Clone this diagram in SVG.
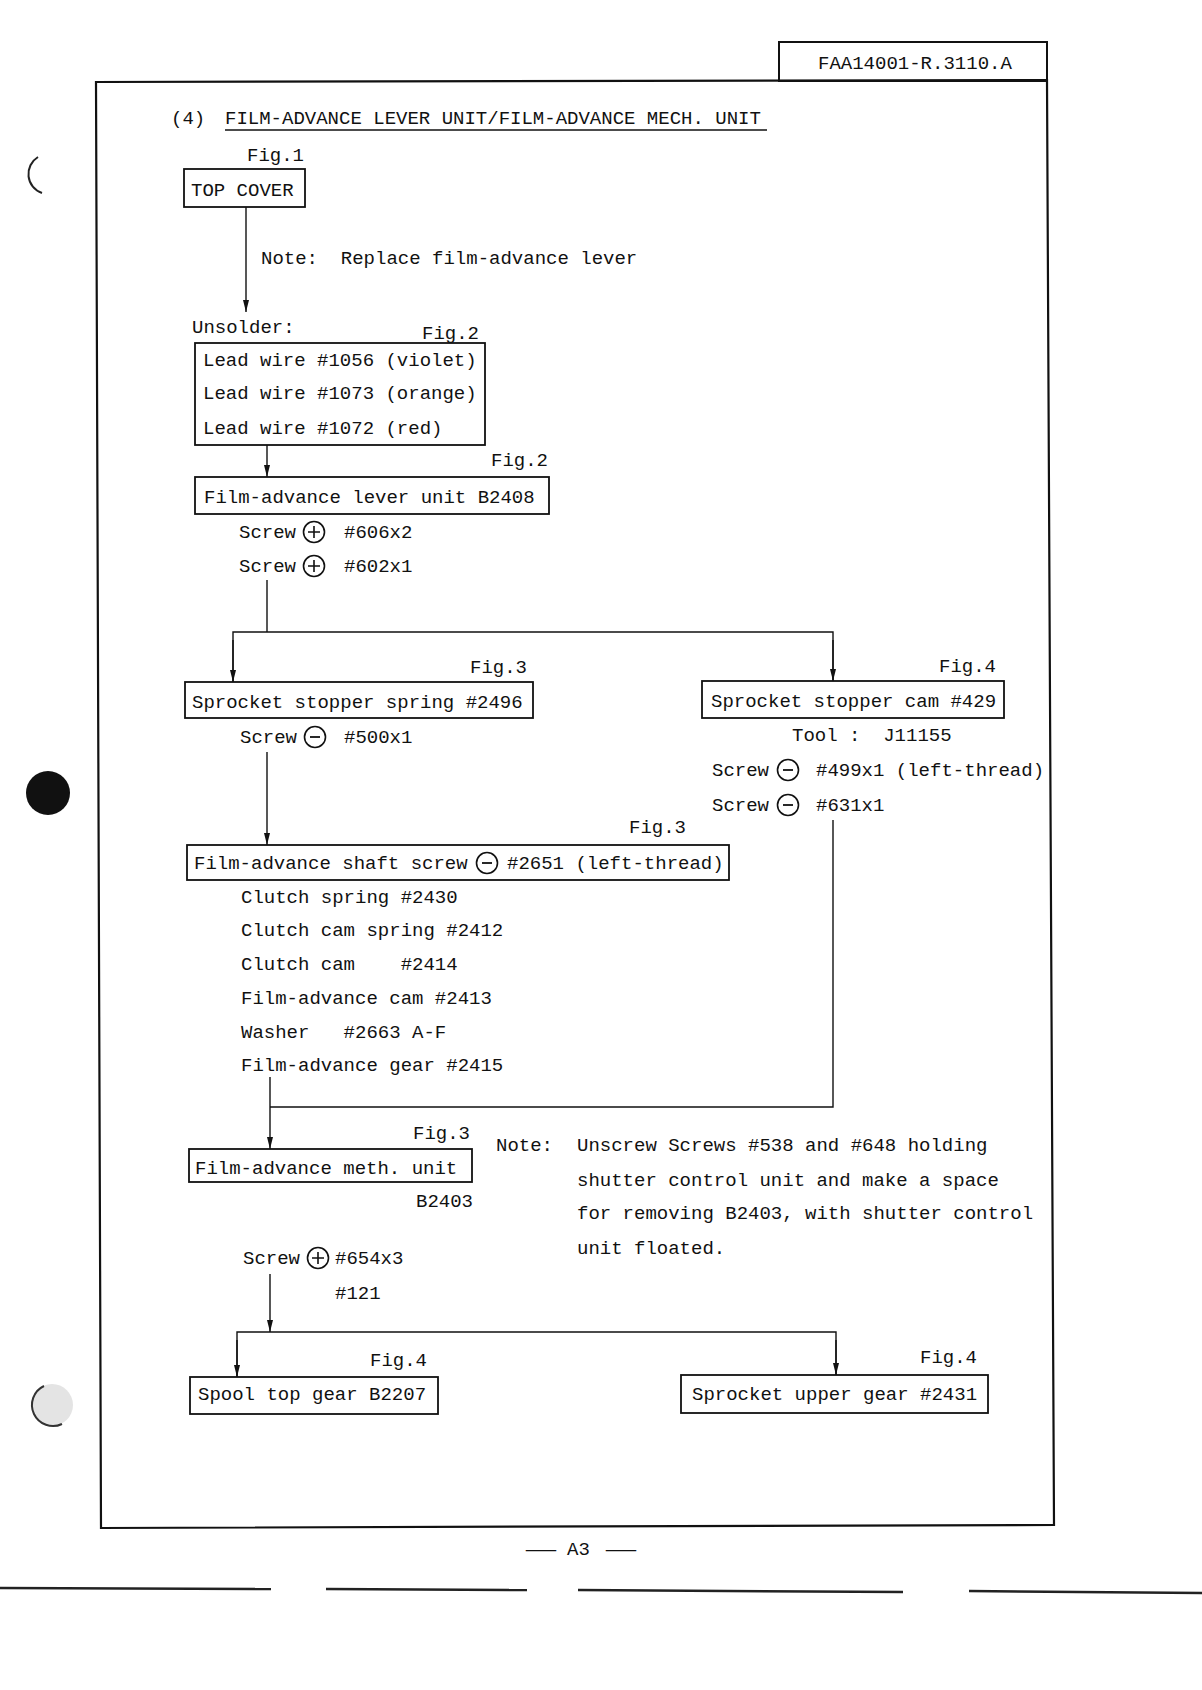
<svg xmlns="http://www.w3.org/2000/svg" width="1202" height="1690" viewBox="0 0 1202 1690">
<defs>
<style>
.t{font-family:"Liberation Mono","DejaVu Sans Mono",monospace;font-size:19px;fill:#111;}
.box{fill:none;stroke:#111;stroke-width:1.8;}
.ln{fill:none;stroke:#111;stroke-width:1.4;}
.sym{fill:#fff;stroke:#111;stroke-width:1.6;}
.edge{stroke:#222;stroke-width:2.5;}
</style>
<marker id="ar" viewBox="0 0 12 6" markerWidth="12" markerHeight="6" refX="12" refY="3" orient="auto" markerUnits="userSpaceOnUse">
<path d="M0,0 L12,3 L0,6 z" fill="#111"/>
</marker>
<g id="plus"><circle class="sym" r="10.5"/><path d="M-6,0 H6 M0,-6 V6" stroke="#111" stroke-width="1.6"/></g>
<g id="minus"><circle class="sym" r="10.5"/><path d="M-5,0 H5" stroke="#111" stroke-width="1.8"/></g>
</defs>
<rect width="1202" height="1690" fill="#fff"/>

<!-- page frame -->
<g id="frame">
<path d="M96,82 L1047,80 L1054,1525 L101,1528 Z" fill="none" stroke="#111" stroke-width="2.2"/>
<rect x="779" y="42" width="268" height="39" fill="none" stroke="#111" stroke-width="2"/>
<text class="t" x="818" y="69">FAA14001-R.3110.A</text>
</g>

<!-- punch holes / page edge (scan marks) -->
<g id="scan">
<path d="M38,157 A20,20 0 0 0 42,193" fill="none" stroke="#222" stroke-width="2"/>
<circle cx="48" cy="793" r="22" fill="#111"/>
<circle cx="52" cy="1405" r="21" fill="#e4e4e4"/>
<path d="M44,1386 A21,21 0 0 0 62,1424" fill="none" stroke="#333" stroke-width="2"/>
<line class="edge" x1="0" y1="1588" x2="271" y2="1589"/>
<line class="edge" x1="326" y1="1589" x2="527" y2="1590" stroke-width="1.5"/>
<line class="edge" x1="578" y1="1590" x2="903" y2="1592"/>
<line class="edge" x1="969" y1="1591" x2="1202" y2="1593"/>
</g>

<g id="title">
<text class="t" x="171" y="124">(4)</text>
<text class="t" x="225" y="124">FILM-ADVANCE LEVER UNIT/FILM-ADVANCE MECH. UNIT</text>
<line x1="225" y1="130" x2="767" y2="130" stroke="#111" stroke-width="1.5"/>
</g>

<g id="connectors">
<line class="ln" x1="246" y1="207" x2="246" y2="312" marker-end="url(#ar)"/>
<line class="ln" x1="267" y1="445" x2="267" y2="477" marker-end="url(#ar)"/>
<polyline class="ln" points="267,580 267,632"/>
<polyline class="ln" points="233,682 233,632 833,632 833,681"/>
<line class="ln" x1="233" y1="640" x2="233" y2="682" marker-end="url(#ar)"/>
<line class="ln" x1="833" y1="640" x2="833" y2="681" marker-end="url(#ar)"/>
<line class="ln" x1="267" y1="752" x2="267" y2="845" marker-end="url(#ar)"/>
<polyline class="ln" points="833,820 833,1107 270,1107"/>
<line class="ln" x1="270" y1="1077" x2="270" y2="1149" marker-end="url(#ar)"/>
<line class="ln" x1="270" y1="1274" x2="270" y2="1332" marker-end="url(#ar)"/>
<polyline class="ln" points="237,1377 237,1332 836,1332 836,1375"/>
<line class="ln" x1="237" y1="1340" x2="237" y2="1377" marker-end="url(#ar)"/>
<line class="ln" x1="836" y1="1340" x2="836" y2="1375" marker-end="url(#ar)"/>
</g>

<g id="top-cover">
<text class="t" x="247" y="161">Fig.1</text>
<rect class="box" x="184" y="169" width="121" height="38"/>
<text class="t" x="191" y="196">TOP COVER</text>
</g>
<g id="note1"><text class="t" x="261" y="264" xml:space="preserve">Note:  Replace film-advance lever</text></g>

<g id="lead-wires">
<text class="t" x="192" y="333">Unsolder:</text>
<text class="t" x="422" y="339">Fig.2</text>
<rect class="box" x="195" y="343" width="290" height="102"/>
<text class="t" x="203" y="366">Lead wire #1056 (violet)</text>
<text class="t" x="203" y="399">Lead wire #1073 (orange)</text>
<text class="t" x="203" y="434">Lead wire #1072 (red)</text>
</g>

<g id="lever-unit">
<text class="t" x="491" y="466">Fig.2</text>
<rect class="box" x="195" y="477" width="354" height="37"/>
<text class="t" x="204" y="503">Film-advance lever unit B2408</text>
<text class="t" x="239" y="538">Screw</text><use href="#plus" x="314" y="532"/><text class="t" x="344" y="538">#606x2</text>
<text class="t" x="239" y="572">Screw</text><use href="#plus" x="314" y="566"/><text class="t" x="344" y="572">#602x1</text>
</g>

<g id="stopper-spring">
<text class="t" x="470" y="673">Fig.3</text>
<rect class="box" x="185" y="682" width="348" height="36"/>
<text class="t" x="192" y="708">Sprocket stopper spring #2496</text>
<text class="t" x="240" y="743">Screw</text><use href="#minus" x="315" y="737"/><text class="t" x="344" y="743">#500x1</text>
</g>

<g id="stopper-cam">
<text class="t" x="939" y="672">Fig.4</text>
<rect class="box" x="702" y="681" width="302" height="37"/>
<text class="t" x="711" y="707">Sprocket stopper cam #429</text>
<text class="t" x="792" y="741" xml:space="preserve">Tool :  J11155</text>
<text class="t" x="712" y="776">Screw</text><use href="#minus" x="788" y="770"/><text class="t" x="816" y="776">#499x1 (left-thread)</text>
<text class="t" x="712" y="811">Screw</text><use href="#minus" x="788" y="805"/><text class="t" x="816" y="811">#631x1</text>
</g>

<g id="shaft-screw">
<text class="t" x="629" y="833">Fig.3</text>
<rect class="box" x="187" y="845" width="542" height="35"/>
<text class="t" x="194" y="869">Film-advance shaft screw</text><use href="#minus" x="487" y="863"/><text class="t" x="507" y="869">#2651 (left-thread)</text>
<text class="t" x="241" y="903">Clutch spring #2430</text>
<text class="t" x="241" y="936">Clutch cam spring #2412</text>
<text class="t" x="241" y="970" xml:space="preserve">Clutch cam    #2414</text>
<text class="t" x="241" y="1004">Film-advance cam #2413</text>
<text class="t" x="241" y="1038" xml:space="preserve">Washer   #2663 A-F</text>
<text class="t" x="241" y="1071">Film-advance gear #2415</text>
</g>

<g id="mech-unit">
<text class="t" x="413" y="1139">Fig.3</text>
<rect class="box" x="189" y="1149" width="283" height="33"/>
<text class="t" x="195" y="1174">Film-advance meth. unit</text>
<text class="t" x="416" y="1207">B2403</text>
<text class="t" x="243" y="1264">Screw</text><use href="#plus" x="318" y="1258"/><text class="t" x="335" y="1264">#654x3</text>
<text class="t" x="335" y="1299">#121</text>
</g>

<g id="note2">
<text class="t" x="496" y="1151">Note:</text>
<text class="t" x="577" y="1151">Unscrew Screws #538 and #648 holding</text>
<text class="t" x="577" y="1186">shutter control unit and make a space</text>
<text class="t" x="577" y="1219">for removing B2403, with shutter control</text>
<text class="t" x="577" y="1254">unit floated.</text>
</g>

<g id="spool-gear">
<text class="t" x="370" y="1366">Fig.4</text>
<rect class="box" x="190" y="1377" width="248" height="37"/>
<text class="t" x="198" y="1400">Spool top gear B2207</text>
</g>

<g id="sprocket-gear">
<text class="t" x="920" y="1363">Fig.4</text>
<rect class="box" x="681" y="1375" width="307" height="38"/>
<text class="t" x="692" y="1400">Sprocket upper gear #2431</text>
</g>

<g id="page-no">
<text class="t" x="526" y="1555" textLength="30" lengthAdjust="spacingAndGlyphs">—</text>
<text class="t" x="567" y="1555">A3</text>
<text class="t" x="606" y="1555" textLength="30" lengthAdjust="spacingAndGlyphs">—</text>
</g>
</svg>
